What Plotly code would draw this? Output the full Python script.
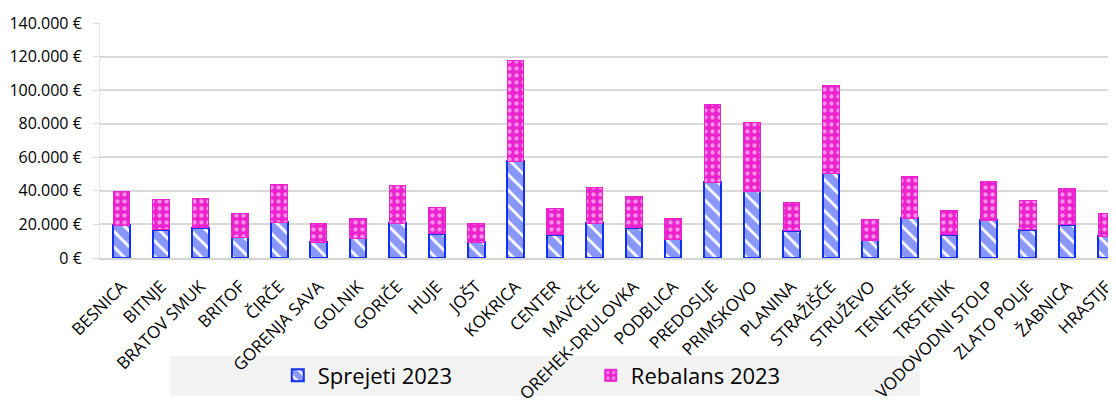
import plotly.graph_objects as go

categories = ["BESNICA", "BITNJE", "BRATOV SMUK", "BRITOF", "ČIRČE", "GORENJA SAVA",
              "GOLNIK", "GORIČE", "HUJE", "JOŠT", "KOKRICA", "CENTER", "MAVČIČE",
              "OREHEK-DRULOVKA", "PODBLICA", "PREDOSLJE", "PRIMSKOVO", "PLANINA",
              "STRAŽIŠČE", "STRUŽEVO", "TENETIŠE", "TRSTENIK", "VODOVODNI STOLP",
              "ZLATO POLJE", "ŽABNICA", "HRASTJE"]

sprejeti_2023 = [19500, 16900, 17900, 12500, 21200, 9500, 11900, 20800, 14500, 9300,
                 57500, 13900, 20800, 17900, 11300, 45000, 39700, 16300, 50600, 10500,
                 23800, 13900, 22400, 16900, 19800, 12900]

rebalans_2023 = [20200, 17800, 17800, 13900, 22500, 10900, 11900, 22300, 15300, 11100,
                 60000, 15300, 21300, 18800, 12500, 46700, 41100, 16800, 52000, 12300,
                 24800, 14300, 23200, 17200, 21500, 13900]

y_ticks = [0, 20000, 40000, 60000, 80000, 100000, 120000, 140000]
y_tick_labels = [f"{v:,}".replace(",", ".") + " €" for v in y_ticks]

BLUE = "#1230f2"
PINK = "#ec22cf"
FONT = "Open Sans"

fig = go.Figure()
fig.add_trace(go.Bar(
    x=categories, y=sprejeti_2023, name="Sprejeti 2023",
    width=0.42,
    marker=dict(color="white", line=dict(color=BLUE, width=2),
                pattern=dict(shape="\\", fgcolor=BLUE, bgcolor="white",
                             size=11, solidity=0.75, fillmode="overlay")),
))
fig.add_trace(go.Bar(
    x=categories, y=rebalans_2023, name="Rebalans 2023",
    width=0.42,
    marker=dict(color=PINK, line=dict(color=PINK, width=1),
                pattern=dict(shape=".", fgcolor="white", bgcolor=PINK,
                             size=7, solidity=0.3, fillmode="overlay")),
))

fig.add_shape(type="rect", xref="paper", yref="paper",
              x0=0.069, x1=0.807, y0=-0.586, y1=-0.4165,
              fillcolor="#f3f3f3", line=dict(width=0), layer="below")

fig.update_layout(
    barmode="stack",
    width=1108, height=399,
    margin=dict(l=92, r=0, t=15, b=149, autoexpand=False),
    paper_bgcolor="white", plot_bgcolor="white",
    font=dict(family=FONT, color="black", size=16),
    showlegend=True,
    legend=dict(orientation="h", x=0.175, xanchor="left", y=-0.5, yanchor="middle",
                bgcolor="rgba(0,0,0,0)", font=dict(size=22, family=FONT),
                entrywidth=268, entrywidthmode="pixels", traceorder="normal",
                itemclick=False),
    xaxis=dict(range=[-0.55, 25.24], tickangle=-45, tickfont=dict(size=17),
               showline=True, linecolor="#d4d4d4", linewidth=2, showgrid=False,
               ticks="", ticklabelstandoff=10, automargin=False, fixedrange=True),
    yaxis=dict(range=[0, 140000], tickvals=y_ticks, ticktext=y_tick_labels,
               tickfont=dict(size=16), showgrid=True, gridcolor="#d9d9d9", gridwidth=1.5,
               showline=True, linecolor="#e6e6e6", linewidth=1,
               ticks="outside", ticklen=6, tickcolor="#d9d9d9",
               ticklabelstandoff=8, automargin=False, zeroline=False, fixedrange=True),
)

fig.write_html("out.html")
